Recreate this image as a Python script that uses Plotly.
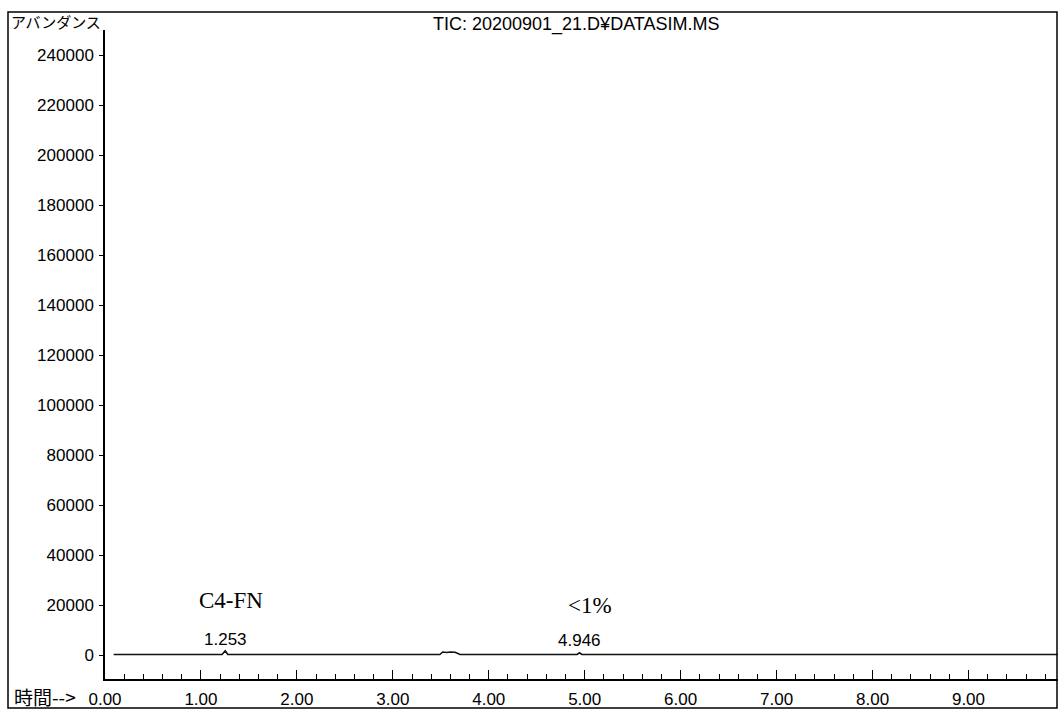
import plotly.graph_objects as go

# Data
times = [0.09, 1.22, 1.253, 1.28, 3.49, 3.52, 3.56, 3.60, 3.65, 3.70, 4.92, 4.946, 4.97, 9.93]
abundance = [200, 200, 1700, 200, 200, 1200, 1000, 1200, 1100, 200, 200, 900, 200, 200]

peak_times = [1.253, 4.946]
peak_labels = ["1.253", "4.946"]
peak_label_y = [6200, 5800]

note_texts = ["C4-FN", "<1%"]
note_x = [1.31, 5.06]
note_y = [22000, 20000]

y_ticks = [0, 20000, 40000, 60000, 80000, 100000, 120000, 140000, 160000, 180000,
           200000, 220000, 240000]
x_ticks = [0, 1, 2, 3, 4, 5, 6, 7, 8, 9]
x_tick_labels = ["0.00", "1.00", "2.00", "3.00", "4.00", "5.00", "6.00", "7.00", "8.00", "9.00"]

title_text = "TIC: 20200901_21.D¥DATASIM.MS"
y_title = "アバンダンス"
x_title = "時間-->"

W, H = 1058, 711
L, R, T, B = 105, 0, 30, 32
pw, ph = W - L - R, H - T - B

def px_x(p):
    return (p - L) / pw

def px_y(p):
    return (H - B - p) / ph

fig = go.Figure()
fig.add_trace(go.Scatter(x=times, y=abundance, mode="lines",
                         line=dict(color="#111111", width=1.6),
                         hoverinfo="skip", showlegend=False))

num_font = dict(family="Liberation Sans, Arial, sans-serif", size=17, color="#000000")
jp_font = dict(family="Noto Sans CJK JP, sans-serif", size=15, color="#000000")

for t, lab, ly in zip(peak_times, peak_labels, peak_label_y):
    fig.add_annotation(x=t, y=ly, text=lab, showarrow=False, font=num_font,
                       xanchor="center", yanchor="middle")

for tx, xx, yy in zip(note_texts, note_x, note_y):
    fig.add_annotation(x=xx, y=yy, text=tx.replace("<", "&lt;"), showarrow=False,
                       font=dict(family="Liberation Serif, Times New Roman, serif", size=23,
                                 color="#000000"),
                       xanchor="center", yanchor="middle")

fig.add_annotation(xref="paper", yref="paper", x=px_x(9), y=px_y(22), text=y_title,
                   showarrow=False, font=jp_font, xanchor="left", yanchor="middle")
fig.add_annotation(xref="paper", yref="paper", x=px_x(576), y=px_y(24), text=title_text,
                   showarrow=False, font=dict(family="Liberation Sans, Arial, sans-serif",
                                              size=18, color="#000000"),
                   xanchor="center", yanchor="middle")
fig.add_annotation(xref="paper", yref="paper", x=px_x(12), y=px_y(696), text=x_title.replace(">", "&gt;"),
                   showarrow=False, font=dict(family="Noto Sans CJK JP, sans-serif", size=19,
                                              color="#000000"),
                   xanchor="left", yanchor="middle")

# Outer frame
fig.add_shape(type="rect", xref="paper", yref="paper",
              x0=px_x(8), x1=px_x(1057), y0=px_y(708), y1=px_y(12),
              line=dict(color="#000000", width=1.5), fillcolor="rgba(0,0,0,0)", layer="above")

fig.update_layout(
    width=W, height=H,
    margin=dict(l=L, r=R, t=T, b=B, pad=0, autoexpand=False),
    paper_bgcolor="white", plot_bgcolor="white",
    xaxis=dict(range=[0, 9.933], tickmode="array", tickvals=x_ticks, ticktext=x_tick_labels,
               ticks="inside", ticklen=9, tickwidth=1.3, tickcolor="#000000",
               minor=dict(ticks="inside", dtick=0.2, tick0=0, ticklen=5, tickwidth=1,
                          tickcolor="#000000", showgrid=False),
               showline=True, linecolor="#000000", linewidth=1.5, showgrid=False,
               zeroline=False, tickfont=num_font, ticklabelstandoff=4, automargin=False),
    yaxis=dict(range=[-9600, 250000], tickmode="array", tickvals=y_ticks,
               ticktext=[str(v) for v in y_ticks],
               ticks="outside", ticklen=4, tickwidth=1, tickcolor="#000000",
               showline=True, linecolor="#000000", linewidth=1.5, showgrid=False,
               zeroline=False, tickfont=num_font, ticklabelstandoff=2, automargin=False),
)

fig.write_html("out.html", config={"displayModeBar": False},
               post_script="document.body.style.margin='0';document.body.style.overflow='hidden';")
